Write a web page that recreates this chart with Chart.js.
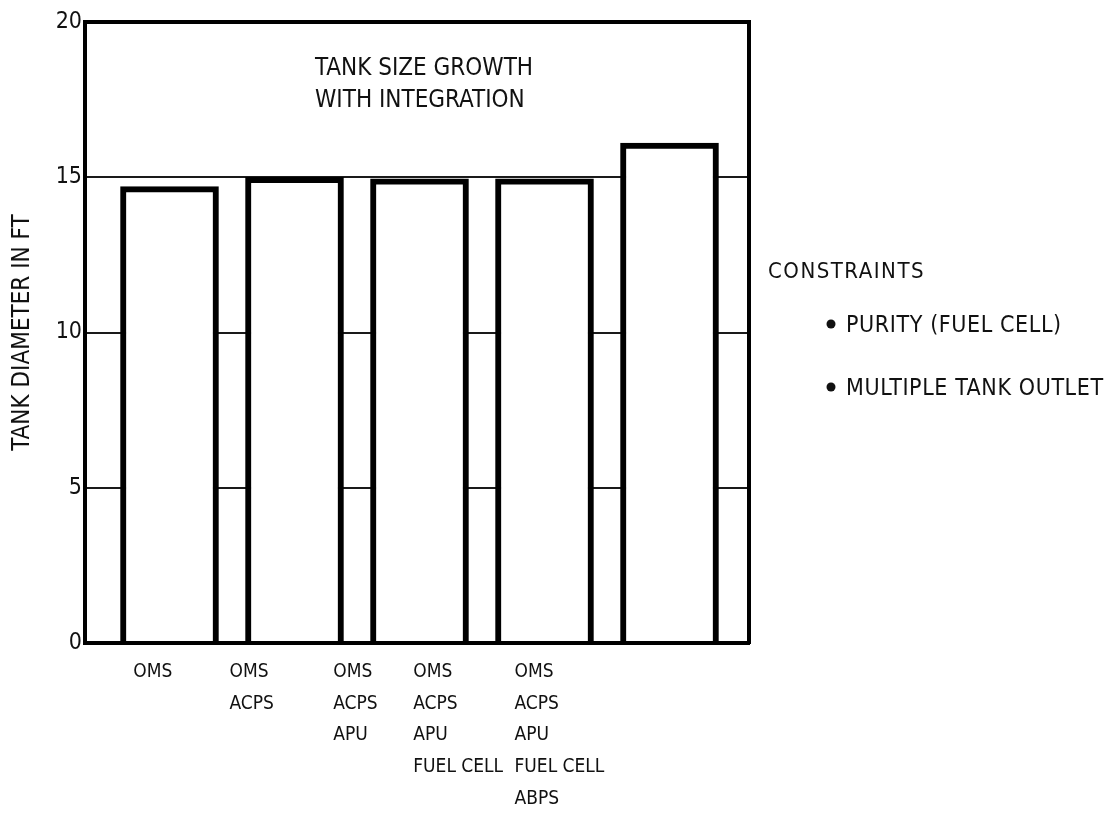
<!DOCTYPE html>
<html>
<head>
<meta charset="utf-8">
<script src="https://cdn.jsdelivr.net/npm/chart.js@4"></script>
<style>
  html, body { margin: 0; padding: 0; background: #ffffff; }
  #wrap { width: 1110px; height: 813px; position: relative; }
</style>
</head>
<body>
<div id="wrap"><canvas id="chart"></canvas></div>
<script>
// Propellant combinations (multi-line category labels)
const categories = [
  ['OMS'],
  ['OMS', 'ACPS'],
  ['OMS', 'ACPS', 'APU'],
  ['OMS', 'ACPS', 'APU', 'FUEL CELL'],
  ['OMS', 'ACPS', 'APU', 'FUEL CELL', 'ABPS']
];
// Tank diameter, ft
const tankDiameterFt = [14.7, 15.0, 14.95, 14.95, 16.1];
const yTickValues = [0, 5, 10, 15, 20];
const noteLines = ['TANK SIZE GROWTH', 'WITH INTEGRATION'];
const constraintsHeading = 'CONSTRAINTS';
const constraintItems = ['PURITY (FUEL CELL)', 'MULTIPLE TANK OUTLET'];

const FONT = "'Liberation Sans Narrow', 'DejaVu Sans Condensed', 'Liberation Sans', sans-serif";
const INK = '#111111';

// Free text blocks: the note inside the plot and the constraints list at the right
const textBlocks = {
  id: 'textBlocks',
  afterDraw(chart) {
    const { ctx, chartArea } = chart;
    ctx.save();
    ctx.fillStyle = INK;
    ctx.textAlign = 'left';
    ctx.textBaseline = 'alphabetic';

    ctx.font = `24px ${FONT}`;
    ctx.letterSpacing = '0px';
    noteLines.forEach((line, i) => {
      ctx.fillText(line, chartArea.left + 230, chartArea.top + 53 + i * 32);
    });

    const x0 = chartArea.right + 19;
    ctx.font = `22px ${FONT}`;
    ctx.letterSpacing = '1.5px';
    ctx.fillText(constraintsHeading, x0, 278);

    ctx.font = `23px ${FONT}`;
    ctx.letterSpacing = '0.6px';
    constraintItems.forEach((item, i) => {
      const base = 332 + i * 63;
      ctx.beginPath();
      ctx.arc(x0 + 63, base - 8, 4.5, 0, Math.PI * 2);
      ctx.fill();
      ctx.fillText(item, x0 + 78, base);
    });
    ctx.restore();
  }
};

const ctx = document.getElementById('chart');
new Chart(ctx, {
  type: 'bar',
  data: {
    datasets: [{
      data: tankDiameterFt.map((v, i) => ({ x: i, y: v })),
      backgroundColor: '#ffffff',
      borderColor: '#000000',
      borderWidth: 6,
      borderSkipped: 'start',
      barThickness: 98
    }]
  },
  options: {
    responsive: true,
    maintainAspectRatio: false,
    animation: false,
    devicePixelRatio: 1,
    layout: { padding: 0 },
    plugins: {
      legend: { display: false },
      tooltip: { enabled: false },
      title: { display: false }
    },
    scales: {
      x: {
        type: 'linear',
        position: 'bottom',
        offset: false,
        min: -0.676,
        max: 4.636,
        afterBuildTicks(scale) {
          // left edges of the stacked label blocks
          scale.ticks = [-0.29, 0.48, 1.31, 1.95, 2.76].map(value => ({ value }));
        },
        afterFit(scale) { scale.height = 170; },
        grid: { display: false, drawTicks: false, offset: false },
        border: { display: true, color: '#000000', width: 4, z: 1 },
        ticks: {
          autoSkip: false,
          maxRotation: 0,
          minRotation: 0,
          align: 'start',
          padding: 13,
          color: INK,
          font: { family: FONT, size: 19, lineHeight: 1.67 },
          callback: (value, index) => categories[index]
        }
      },
      xTop: {
        type: 'linear',
        position: 'top',
        afterFit(scale) { scale.height = 22; },
        grid: { display: false, drawTicks: false },
        border: { display: true, color: '#000000', width: 4, z: 1 },
        ticks: { display: false }
      },
      y: {
        type: 'linear',
        position: 'left',
        min: 0,
        max: 20,
        afterBuildTicks(scale) {
          scale.ticks = yTickValues.map(value => ({ value }));
        },
        afterFit(scale) { scale.width = 85; },
        grid: {
          drawTicks: false,
          lineWidth: 2,
          color: c => (c.tick && (c.tick.value === 0 || c.tick.value === 20)) ? 'rgba(0,0,0,0)' : '#1a1a1a'
        },
        border: { display: true, color: '#000000', width: 4, z: 1 },
        ticks: {
          padding: 3,
          color: INK,
          font: { family: FONT, size: 23 }
        },
        title: {
          display: true,
          text: 'TANK DIAMETER IN FT',
          color: INK,
          font: { family: FONT, size: 24, lineHeight: 1.2 },
          padding: { top: 8, bottom: 0 }
        }
      },
      yRight: {
        type: 'linear',
        position: 'right',
        afterFit(scale) { scale.width = 361; },
        grid: { display: false, drawTicks: false },
        border: { display: true, color: '#000000', width: 4, z: 1 },
        ticks: { display: false }
      }
    }
  },
  plugins: [textBlocks]
});
</script>
</body>
</html>
